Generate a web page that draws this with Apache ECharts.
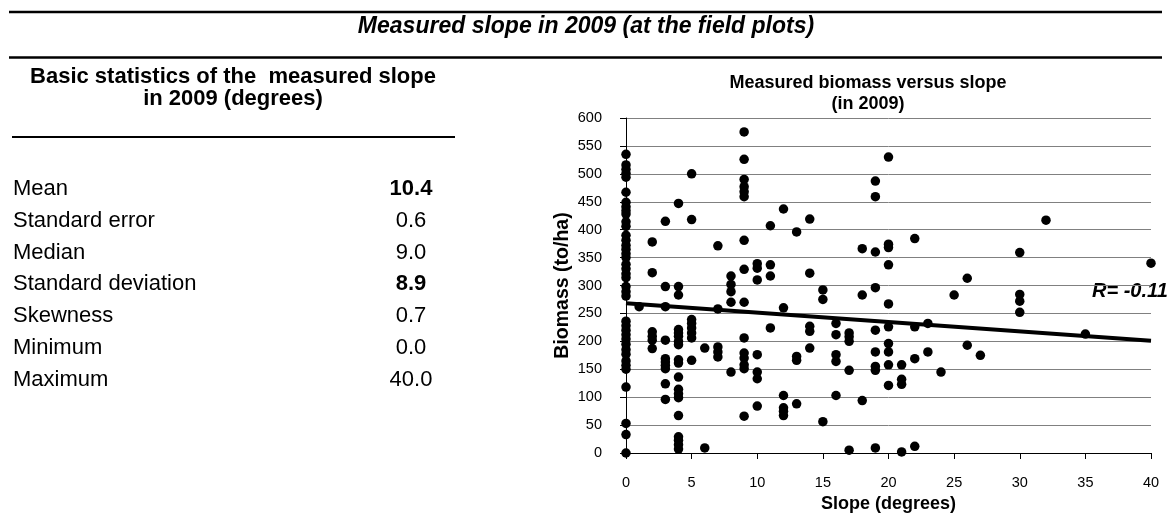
<!DOCTYPE html>
<html>
<head>
<meta charset="utf-8">
<script src="https://cdn.jsdelivr.net/npm/echarts@6/dist/echarts.min.js"></script>
<style>
html,body{margin:0;padding:0;background:#fff;}
#c{width:1172px;height:527px;}
</style>
</head>
<body>
<div id="c"></div>
<script>
// ---- data ----
const slopeLevels = [0,1,2,3,4,5,6,7,8,9,10,11,12,13,14,15,16,17,18,19,20,21,22,23,24,25,26,27,30,32,35,40];
const biomassBySlope = [
  [535,516,508,501,494,467,449,441,434,428,414,406,390,381,372,365,357,350,338,330,321,314,298,289,281,236,228,220,212,204,195,185,177,165,157,150,118,53,33,0],
  [262],
  [378,323,217,209,202,187],
  [415,298,262,202,169,163,157,151,124,96],
  [447,298,283,221,215,209,200,194,167,161,136,114,106,99,67,29,23,15,7],
  [500,418,239,232,224,215,206,166],
  [188,9],
  [371,258,190,181,172],
  [317,302,289,270,145],
  [575,526,490,477,468,459,381,329,270,206,179,170,158,151,66],
  [339,331,310,176,145,133,84],
  [407,337,317,224],
  [437,260,103,81,75,67],
  [396,173,166,88],
  [419,322,227,218,188],
  [292,275,56],
  [232,212,176,164,103],
  [215,208,200,148,5],
  [366,283,94],
  [487,459,360,296,220,181,155,148,9],
  [530,374,368,337,267,226,196,181,158,121],
  [158,132,123,2],
  [384,226,169,12],
  [232,181],
  [145],
  [283],
  [313,193],
  [175],
  [359,284,272,252],
  [417],
  [213],
  [340]
];
const trendX = [0, 40];
const trendY = [268, 201];
const rLabel = 'R= -0.11';

const statNames = ['Mean','Standard error','Median','Standard deviation','Skewness','Minimum','Maximum'];
const statValues = ['10.4','0.6','9.0','8.9','0.7','0.0','40.0'];
const statBold = [true,false,false,true,false,false,false];

const xTicks = {min:0, max:40, interval:5};
const yTicks = {min:0, max:600, interval:50};

const mainTitle = 'Measured slope in 2009 (at the field plots)';
const statsTitle = ['Basic statistics of the  measured slope', 'in 2009 (degrees)'];
const chartTitle = ['Measured biomass versus slope', '(in 2009)'];

// ---- build ----
const points = [];
slopeLevels.forEach((s, i) => biomassBySlope[i].forEach(b => points.push([s, b])));
const trend = trendX.map((x, i) => [x, trendY[i]]);

const FF = '"Liberation Sans", Arial, sans-serif';
const graphics = [];
// rules
graphics.push({type:'line', shape:{x1:9,y1:12,x2:1162,y2:12}, style:{stroke:'#000',lineWidth:2.5}});
graphics.push({type:'line', shape:{x1:9,y1:57.5,x2:1162,y2:57.5}, style:{stroke:'#000',lineWidth:2.5}});
graphics.push({type:'line', shape:{x1:12,y1:137,x2:455,y2:137}, style:{stroke:'#000',lineWidth:2}});
// titles
graphics.push({type:'text', x:586, y:27, style:{text:mainTitle, font:'italic bold 23px '+FF, fill:'#000', textAlign:'center', textVerticalAlign:'middle'}});
graphics.push({type:'text', x:233, y:77, style:{text:statsTitle[0], font:'bold 22px '+FF, fill:'#000', textAlign:'center', textVerticalAlign:'middle'}});
graphics.push({type:'text', x:233, y:99, style:{text:statsTitle[1], font:'bold 22px '+FF, fill:'#000', textAlign:'center', textVerticalAlign:'middle'}});
graphics.push({type:'text', x:868, y:83, style:{text:chartTitle[0], font:'bold 18px '+FF, fill:'#000', textAlign:'center', textVerticalAlign:'middle'}});
graphics.push({type:'text', x:868, y:104, style:{text:chartTitle[1], font:'bold 18px '+FF, fill:'#000', textAlign:'center', textVerticalAlign:'middle'}});
// table
statNames.forEach((n, i) => {
  const y = 189 + i * 31.8;
  graphics.push({type:'text', x:13, y:y, style:{text:n, font:'22px '+FF, fill:'#000', textAlign:'left', textVerticalAlign:'middle'}});
  graphics.push({type:'text', x:411, y:y, style:{text:statValues[i], font:(statBold[i]?'bold ':'')+'22px '+FF, fill:'#000', textAlign:'center', textVerticalAlign:'middle'}});
});
// R label
graphics.push({type:'text', x:1092, y:291, style:{text:rLabel, font:'italic bold 20px '+FF, fill:'#000', textAlign:'left', textVerticalAlign:'middle'}});

const chart = echarts.init(document.getElementById('c'), null, {renderer:'canvas'});
chart.setOption({
  animation:false,
  backgroundColor:'#fff',
  textStyle:{fontFamily:FF},
  grid:{left:626, right:21, top:118, bottom:74, containLabel:false},
  xAxis:{
    type:'value', min:xTicks.min, max:xTicks.max, interval:xTicks.interval,
    name:'Slope (degrees)', nameLocation:'middle', nameGap:38,
    nameTextStyle:{fontFamily:FF, fontWeight:'bold', fontSize:18, color:'#000'},
    axisLine:{show:true, onZero:false, lineStyle:{color:'#000', width:1}},
    axisTick:{show:true, inside:false, length:6, lineStyle:{color:'#000'}},
    axisLabel:{fontFamily:FF, fontSize:14.5, color:'#000', margin:22},
    splitLine:{show:false}
  },
  yAxis:{
    type:'value', min:yTicks.min, max:yTicks.max, interval:yTicks.interval,
    name:'Biomass (to/ha)', nameLocation:'middle', nameGap:53,
    nameTextStyle:{fontFamily:FF, fontWeight:'bold', fontSize:19.5, color:'#000'},
    axisLine:{show:true, onZero:false, lineStyle:{color:'#000', width:1}},
    axisTick:{show:true, inside:false, length:6, lineStyle:{color:'#000'}},
    axisLabel:{fontFamily:FF, fontSize:14.5, color:'#000', margin:24},
    splitLine:{show:true, lineStyle:{color:'#808080', width:1}}
  },
  series:[
    {type:'scatter', data:points, symbol:'circle', symbolSize:9.5, itemStyle:{color:'#000', opacity:1}, z:3},
    {type:'line', data:trend, showSymbol:false, symbol:'none', lineStyle:{color:'#000', width:4}, z:4}
  ],
  graphic:graphics
});
</script>
</body>
</html>
